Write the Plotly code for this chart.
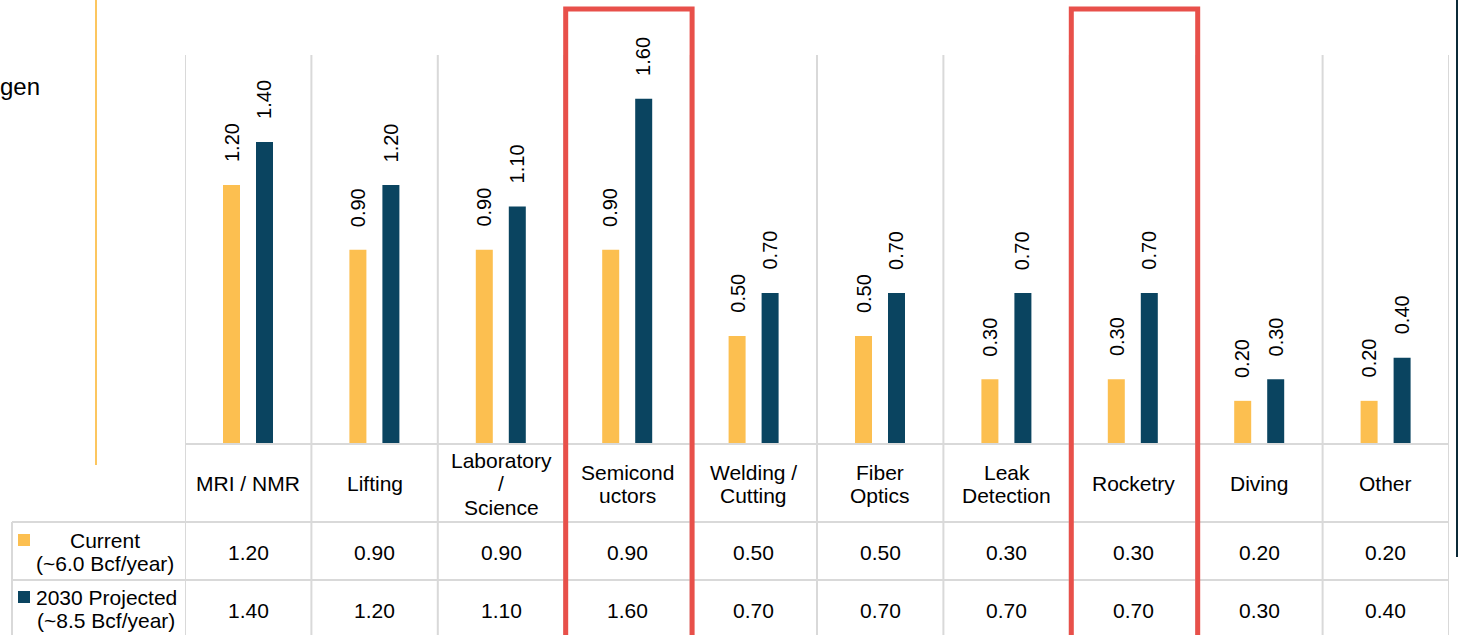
import plotly.graph_objects as go

categories = ["MRI / NMR", "Lifting", "Laboratory<br>/<br>Science", "Semicond<br>uctors",
              "Welding /<br>Cutting", "Fiber<br>Optics", "Leak<br>Detection", "Rocketry",
              "Diving", "Other"]
current = [1.20, 0.90, 0.90, 0.90, 0.50, 0.50, 0.30, 0.30, 0.20, 0.20]
projected = [1.40, 1.20, 1.10, 1.60, 0.70, 0.70, 0.70, 0.70, 0.30, 0.40]
series_names = [["Current", "(~6.0 Bcf/year)"], ["2030 Projected", "(~8.5 Bcf/year)"]]
highlighted = [3, 7]

W, H = 1458, 635
YELLOW = "#FCBF50"
NAVY = "#0A4460"
GRID = "#D9D9D9"
RED = "#E8504A"
FONT = "Liberation Sans, Arial, sans-serif"

def px(x):
    return x / W

def py(y):
    return (H - y) / H

n = len(categories)
bar_w = 17 / 126.4
off_cur = -25.2 / 126.4
off_proj = 7.8 / 126.4

fig = go.Figure()
fig.add_trace(go.Bar(x=list(range(n)), y=current, width=bar_w, offset=off_cur,
                     marker=dict(color=YELLOW, line=dict(width=0)), hoverinfo="skip",
                     showlegend=False))
fig.add_trace(go.Bar(x=list(range(n)), y=projected, width=bar_w, offset=off_proj,
                     marker=dict(color=NAVY, line=dict(width=0)), hoverinfo="skip",
                     showlegend=False))

shapes = []
annotations = []

# vertical grid / table column lines
for k in range(n + 1):
    shapes.append(dict(type="line", xref="x", yref="paper", x0=k - 0.5, x1=k - 0.5,
                       y0=0, y1=py(55), line=dict(color=GRID, width=2), layer="below"))
# horizontal table lines
shapes.append(dict(type="line", xref="paper", yref="paper", x0=px(185), x1=px(1449),
                   y0=py(444), y1=py(444), line=dict(color=GRID, width=2)))
for yy in (522, 580):
    shapes.append(dict(type="line", xref="paper", yref="paper", x0=px(12), x1=px(1449),
                       y0=py(yy), y1=py(yy), line=dict(color=GRID, width=2)))
shapes.append(dict(type="line", xref="paper", yref="paper", x0=px(12), x1=px(12),
                   y0=0, y1=py(522), line=dict(color=GRID, width=2)))

# orange separator line and dark right edge
shapes.append(dict(type="line", xref="paper", yref="paper", x0=px(96), x1=px(96),
                   y0=py(465), y1=1, line=dict(color="#FBB32A", width=1.5)))
shapes.append(dict(type="line", xref="paper", yref="paper", x0=px(1457), x1=px(1457),
                   y0=py(557), y1=1, line=dict(color="#0B2A38", width=2)))

# red highlight boxes
for idx in highlighted:
    shapes.append(dict(type="rect", xref="x", yref="paper", x0=idx - 0.5 + 1.5 / 126.4,
                       x1=idx + 0.5 + 1.5 / 126.4, y0=py(645), y1=py(9),
                       line=dict(color=RED, width=5), fillcolor="rgba(0,0,0,0)"))

# legend squares in table
shapes.append(dict(type="rect", xref="paper", yref="paper", x0=px(18), x1=px(30),
                   y0=py(546), y1=py(534), line=dict(width=0), fillcolor=YELLOW))
shapes.append(dict(type="rect", xref="paper", yref="paper", x0=px(18), x1=px(30),
                   y0=py(603), y1=py(591), line=dict(width=0), fillcolor=NAVY))

tf = dict(family=FONT, size=21, color="#000000")

# bar value labels
for i in range(n):
    for vals, off in ((current, off_cur), (projected, off_proj)):
        annotations.append(dict(x=i + off + bar_w / 2, y=vals[i], xref="x", yref="y",
                                text=f"{vals[i]:.2f}", textangle=-90, showarrow=False,
                                xanchor="center", yanchor="bottom", yshift=21,
                                font=dict(family=FONT, size=20, color="#000000")))

# category header
for i, c in enumerate(categories):
    lines = c.split("<br>")
    nl = len(lines)
    for j, line in enumerate(lines):
        yc = 484 + (j - (nl - 1) / 2) * 23.5
        annotations.append(dict(x=i, y=py(yc), xref="x", yref="paper", text=line,
                                showarrow=False, xanchor="center", yanchor="middle", font=tf))
# table values
for i in range(n):
    annotations.append(dict(x=i, y=py(552), xref="x", yref="paper", text=f"{current[i]:.2f}",
                            showarrow=False, xanchor="center", yanchor="middle", font=tf))
    annotations.append(dict(x=i, y=py(610), xref="x", yref="paper", text=f"{projected[i]:.2f}",
                            showarrow=False, xanchor="center", yanchor="middle", font=tf))
# row headers
row_pos = [(105, 540, 563), (106, 597, 620)]
for (xc, y1, y2), names in zip(row_pos, series_names):
    annotations.append(dict(x=px(xc), y=py(y1), xref="paper", yref="paper", text=names[0],
                            showarrow=False, xanchor="center", yanchor="middle", font=tf))
    annotations.append(dict(x=px(xc), y=py(y2), xref="paper", yref="paper", text=names[1],
                            showarrow=False, xanchor="center", yanchor="middle", font=tf))

# clipped title fragment
annotations.append(dict(x=px(42), y=py(87), xref="paper", yref="paper", text="gen",
                        showarrow=False, xanchor="right", yanchor="middle",
                        font=dict(family=FONT, size=24, color="#000000")))

fig.update_layout(
    width=W, height=H,
    margin=dict(l=0, r=0, t=0, b=0),
    paper_bgcolor="white", plot_bgcolor="rgba(0,0,0,0)",
    barmode="overlay",
    xaxis=dict(domain=[px(185), px(1449)], range=[-0.5, n - 0.5], showgrid=False,
               zeroline=False, showticklabels=False, ticks="", showline=False, fixedrange=True),
    yaxis=dict(domain=[py(444), py(12.4)], range=[0, 2.0], showgrid=False, zeroline=False,
               showticklabels=False, ticks="", showline=False, fixedrange=True),
    shapes=shapes,
    annotations=annotations,
    font=tf,
)

fig.write_html("out.html")
